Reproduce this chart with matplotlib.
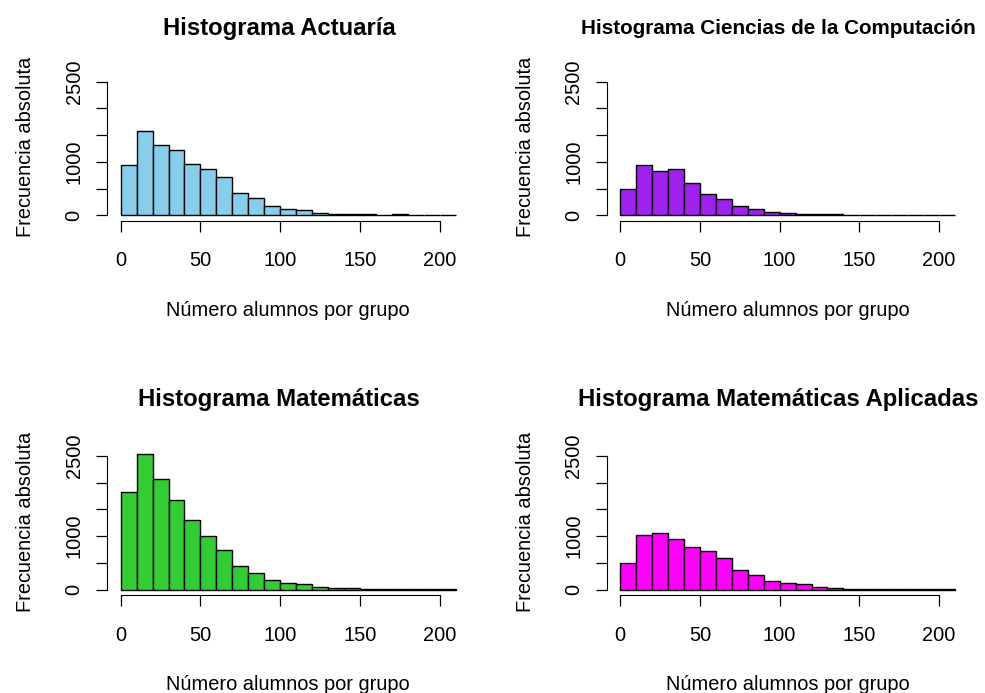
import numpy as np
import matplotlib
matplotlib.use("Agg")
import matplotlib.pyplot as plt

plt.rcParams["font.family"] = ["Liberation Sans", "DejaVu Sans"]

# bin edges shared by all histograms (width 10, 0..210)
edges = np.arange(0, 220, 10)

actuaria = [948, 1571, 1322, 1222, 954, 873, 723, 411, 330, 181, 125, 94, 50, 31,
            25, 19, 12, 19, 10, 10, 6]
computacion = [486, 935, 829, 873, 598, 399, 299, 175, 118, 69, 44, 31, 25, 19,
               12, 6, 6, 12, 6, 5, 5]
matematicas = [1820, 2544, 2076, 1683, 1297, 1010, 736, 443, 312, 175, 125, 100, 56, 37,
               25, 19, 12, 19, 12, 12, 6]
mat_aplicadas = [505, 1022, 1060, 954, 798, 717, 592, 362, 281, 156, 118, 100, 56, 31,
                 19, 12, 6, 12, 6, 6, 6]

titles = ["Histograma Actuaría", "Histograma Ciencias de la Computación",
          "Histograma Matemáticas", "Histograma Matemáticas Aplicadas"]
title_sizes = [17.2, 14.9, 17.2, 17.2]
colors = ["#87CEEB", "#A020F0", "#32CD32", "#FF00FF"]
series = [actuaria, computacion, matematicas, mat_aplicadas]

xticks = [0, 50, 100, 150, 200]
yticks = [0, 500, 1000, 1500, 2000, 2500]
ylabels = ["0", "", "1000", "", "", "2500"]

fig = plt.figure(figsize=(9.85, 6.93), dpi=100)

# axes rectangles (left, bottom, width, height) in figure fractions
w, h = 0.3672, 0.2122
rects = [(0.1089, 0.6815, w, h), (0.616, 0.6815, w, h),
         (0.1089, 0.1414, w, h), (0.616, 0.1414, w, h)]
title_y = [1 - 29 / 693, 1 - 29 / 693, 1 - 399 / 693, 1 - 399 / 693]

for rect, vals, col, title, ts, ty in zip(rects, series, colors, titles, title_sizes, title_y):
    ax = fig.add_axes(rect)
    ax.bar(edges[:-1], vals, width=10, align="edge", color=col,
           edgecolor="black", linewidth=1.0)
    ax.set_xlim(-8.4, 218.4)
    ax.set_ylim(-102, 2652)
    for s in ["top", "right"]:
        ax.spines[s].set_visible(False)
    ax.spines["bottom"].set_bounds(0, 200)
    ax.spines["left"].set_bounds(0, 2500)
    ax.set_xticks(xticks)
    ax.set_yticks(yticks)
    ax.set_yticklabels(ylabels, rotation=90, va="center")
    ax.tick_params(direction="out", length=8, width=0.9, labelsize=14.4, pad=14)
    ax.tick_params(axis="y", pad=9)
    ax.set_xlabel("Número alumnos por grupo", fontsize=14.4, labelpad=22)
    ax.set_ylabel("Frecuencia absoluta", fontsize=14.4, labelpad=21)
    fig.text(rect[0] + 0.475 * rect[2], ty, title, fontsize=ts, fontweight="bold",
             ha="center", va="center")

fig.savefig("out.png", dpi=100, facecolor="white")
